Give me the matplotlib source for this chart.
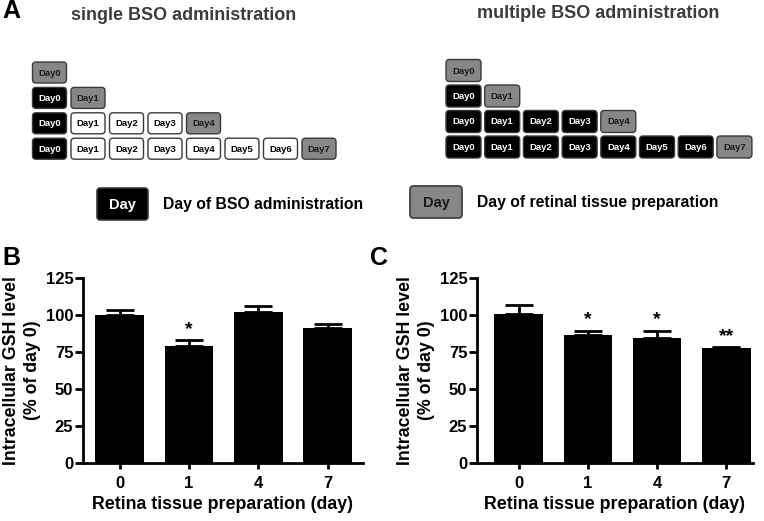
import numpy as np
import matplotlib
matplotlib.use('Agg')
from matplotlib import pyplot as plt
from matplotlib.patches import FancyBboxPatch

plt.rcParams['font.family'] = ['Liberation Sans', 'DejaVu Sans']
plt.rcParams['font.weight'] = 'bold'

# datos de las barras
days = ['0', '1', '4', '7']
single_mean = [100, 79, 102, 91]
single_err = [3.5, 4, 4, 2.7]
single_sig = ['', '*', '', '']
multi_mean = [100.5, 86.5, 84.5, 77.5]
multi_err = [6, 3, 5, 1]
multi_sig = ['', '*', '*', '**']

# esquema de administracion
prep_days = [0, 1, 4, 7]

W, H = 764, 521
fig = plt.figure(figsize=(W / 100, H / 100), dpi=100)

# ejes de fondo en pixeles para el panel A
ax0 = fig.add_axes([0, 0, 1, 1])
ax0.set_xlim(0, W)
ax0.set_ylim(H, 0)
ax0.axis('off')

GRAY = '#878787'
EDGE = '#3a3a3a'
TITLE = '#3c3c3c'


def caja(x, y, w, h, tipo, texto, fs=6.8, lw=1.0):
    if tipo == 'bso':
        fc, tc = 'black', 'white'
    elif tipo == 'prep':
        fc, tc = GRAY, '#1a1a1a'
    else:
        fc, tc = 'white', 'black'
    p = FancyBboxPatch((x, y), w, h, boxstyle='round,pad=0,rounding_size=3.5',
                       fc=fc, ec=EDGE, lw=lw)
    ax0.add_patch(p)
    ax0.text(x + w / 2, y + h / 2 + 0.5, texto, color=tc, fontsize=fs,
             ha='center', va='center', fontweight='bold')


def esquema(x0, pitch, bw, y0, rpitch, bh, multiple):
    for r, pd in enumerate(prep_days):
        for d in range(pd + 1):
            if d == pd:
                tipo = 'prep'
            elif d == 0 or multiple:
                tipo = 'bso'
            else:
                tipo = 'none'
            caja(x0 + d * pitch, y0 + r * rpitch, bw, bh, tipo, 'Day%d' % d)


esquema(32.5, 38.5, 34, 62, 25.4, 21, False)
esquema(446, 38.7, 35, 59.5, 25.5, 22, True)

ax0.text(2, 11, 'A', fontsize=18, fontweight='bold', va='center', ha='left')
ax0.text(184, 15, 'single BSO administration', fontsize=13, color=TITLE,
         ha='center', va='center')
ax0.text(598, 14, 'multiple BSO administration', fontsize=13, color=TITLE,
         ha='center', va='center')

# leyenda
caja(97, 188, 51, 32, 'bso', 'Day', fs=10.5, lw=1.2)
ax0.text(163, 205, 'Day of BSO administration', fontsize=11.3, ha='left', va='center')
caja(410, 186, 52, 32, 'prep', 'Day', fs=10.5, lw=1.2)
ax0.text(477, 203, 'Day of retinal tissue preparation', fontsize=11.3, ha='left', va='center')

ax0.text(2, 258, 'B', fontsize=18, fontweight='bold', va='center', ha='left')
ax0.text(370, 258, 'C', fontsize=18, fontweight='bold', va='center', ha='left')


def barras(left, right, xl, mean, err, sig):
    y0, y1 = 463, 278
    ax = fig.add_axes([left / W, (H - y0) / H, (right - left) / W, (y0 - y1) / H])
    x = np.arange(len(days))
    ax.bar(x, mean, width=0.7, color='black', zorder=2)
    ax.errorbar(x, mean, yerr=[np.zeros(len(err)), err], fmt='none', ecolor='black',
                elinewidth=2, capsize=10, capthick=2, zorder=3)
    for i, s in enumerate(sig):
        if s:
            ax.text(x[i], mean[i] + err[i] + 1.5, s, ha='center', va='bottom',
                    fontsize=14, fontweight='bold')
    ax.set_xlim(*xl)
    ax.set_ylim(0, 125)
    ax.set_yticks([0, 25, 50, 75, 100, 125])
    ax.set_xticks(x)
    ax.set_xticklabels(days)
    for s in ['top', 'right']:
        ax.spines[s].set_visible(False)
    for s in ['left', 'bottom']:
        ax.spines[s].set_linewidth(2)
    ax.tick_params(axis='y', length=6, width=2, labelsize=12, pad=1)
    ax.tick_params(axis='x', length=4, width=2, labelsize=12, pad=5)
    for lab in ax.get_xticklabels() + ax.get_yticklabels():
        lab.set_fontweight('bold')
    ax.set_ylabel('Intracellular GSH level\n(% of day 0)', fontsize=12.8,
                  fontweight='bold', linespacing=1.3, labelpad=3)
    ax.set_xlabel('Retina tissue preparation (day)', fontsize=12.8,
                  fontweight='bold', labelpad=4)
    return ax


barras(83, 363, (-0.53, 3.51), single_mean, single_err, single_sig)
barras(477, 753, (-0.6, 3.385), multi_mean, multi_err, multi_sig)

fig.savefig('out.png', dpi=100)
